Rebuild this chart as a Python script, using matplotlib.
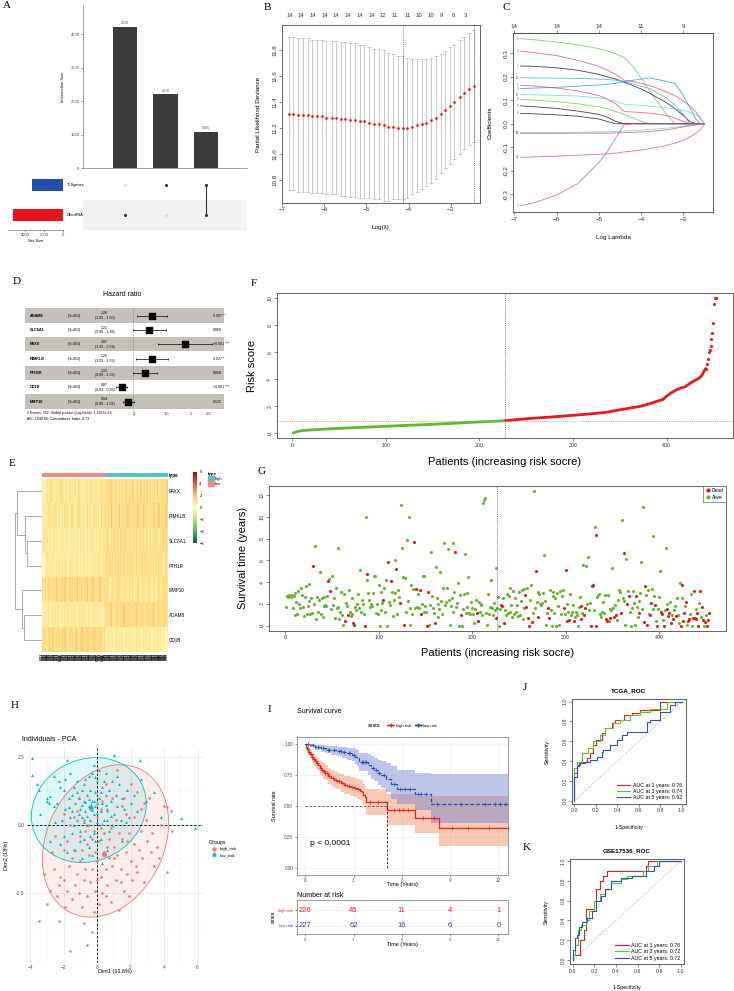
import numpy as np
import matplotlib
matplotlib.use("Agg")
import matplotlib.pyplot as plt
from matplotlib.patches import Ellipse, Patch
from matplotlib.lines import Line2D
from matplotlib.transforms import blended_transform_factory as blend

plt.rcParams['font.family'] = ['Liberation Sans', 'DejaVu Sans']
plt.rcParams['axes.linewidth'] = 0.5

W, H = 734, 991

# ---------------- A: upset ----------------
inter_size = [4228, 2210, 1085]
inter_sets = [(0, 1), (1, 0), (1, 1)]      # (TLSgenes, DEmRNA) membership of each column
set_names = ['TLSgenes', 'DEmRNA']
set_size = [3295, 5313]
set_cols = ['#1F4EA8', '#E8131E']

# ---------------- B: cv.glmnet ----------------
cv_loglam = [-6.85, -6.74, -6.62, -6.51, -6.40, -6.29, -6.17, -6.06, -5.95, -5.83,
             -5.72, -5.61, -5.50, -5.38, -5.27, -5.16, -5.05, -4.93, -4.82, -4.71,
             -4.59, -4.48, -4.37, -4.26, -4.14, -4.03, -3.92, -3.81, -3.69, -3.58,
             -3.47, -3.36, -3.24, -3.13, -3.02, -2.91, -2.79, -2.68, -2.57, -2.45]
cv_mean = [11.31, 11.31, 11.30, 11.30, 11.30, 11.29, 11.29, 11.29, 11.28, 11.28,
           11.28, 11.27, 11.27, 11.26, 11.26, 11.25, 11.25, 11.24, 11.23, 11.23,
           11.22, 11.21, 11.21, 11.20, 11.20, 11.20, 11.21, 11.22, 11.23, 11.24,
           11.26, 11.28, 11.31, 11.34, 11.37, 11.40, 11.44, 11.47, 11.50, 11.52]
cv_sd = [0.59, 0.59, 0.59, 0.59, 0.59, 0.59, 0.59, 0.59, 0.59, 0.59,
         0.59, 0.59, 0.59, 0.59, 0.59, 0.59, 0.59, 0.58, 0.58, 0.58,
         0.58, 0.57, 0.56, 0.55, 0.55, 0.54, 0.52, 0.51, 0.50, 0.49,
         0.48, 0.47, 0.46, 0.45, 0.45, 0.44, 0.44, 0.43, 0.43, 0.43]
cv_lambda_min = -4.14
cv_lambda_1se = -2.45
cv_top_pos = [-6.83, -6.56, -6.28, -6.0, -5.72, -5.45, -5.15, -4.88, -4.61, -4.33,
              -4.01, -3.75, -3.48, -3.21, -2.94, -2.64]
cv_top_nz = [14, 14, 14, 14, 14, 14, 14, 14, 12, 11, 11, 10, 10, 9, 6, 3]

# ---------------- C: coefficient paths ----------------
coef_loglam = [-6.85, -6.5, -6.0, -5.5, -5.0, -4.8, -4.6, -4.4, -4.2, -4.0,
               -3.8, -3.6, -3.4, -3.2, -3.0, -2.85, -2.7, -2.6, -2.5]
coef_paths = [
    [0.362, 0.357, 0.348, 0.336, 0.320, 0.310, 0.298, 0.282, 0.245, 0.195, 0.140, 0.090, 0.040, 0.0, 0, 0, 0, 0, 0],
    [0.309, 0.302, 0.290, 0.270, 0.245, 0.228, 0.210, 0.185, 0.180, 0.172, 0.162, 0.150, 0.135, 0.120, 0.097, 0.075, 0.050, 0.025, 0],
    [0.246, 0.244, 0.238, 0.228, 0.210, 0.200, 0.190, 0.177, 0.163, 0.148, 0.130, 0.110, 0.090, 0.065, 0.035, 0.010, 0, 0, 0],
    [0.196, 0.195, 0.194, 0.193, 0.190, 0.188, 0.185, 0.180, 0.170, 0.160, 0.150, 0.130, 0.110, 0.080, 0.040, 0, 0, 0, 0],
    [0.150, 0.152, 0.155, 0.160, 0.165, 0.168, 0.172, 0.178, 0.185, 0.190, 0.195, 0.188, 0.180, 0.172, 0.120, 0.070, 0.020, 0, 0],
    [0.164, 0.160, 0.152, 0.140, 0.120, 0.105, 0.085, 0.052, 0.050, 0.048, 0.045, 0.040, 0.035, 0.025, 0.010, 0, 0, 0, 0],
    [0.124, 0.123, 0.121, 0.118, 0.110, 0.105, 0.095, 0.083, 0.080, 0.078, 0.075, 0.072, 0.068, 0.063, 0.057, 0.050, 0.040, 0.020, 0],
    [0.104, 0.100, 0.094, 0.085, 0.072, 0.064, 0.052, 0.040, 0.025, 0.010, 0, 0, 0, 0, 0, 0, 0, 0, 0],
    [0.076, 0.072, 0.065, 0.054, 0.040, 0.028, 0.010, 0, 0, 0, 0, 0, 0, 0, 0, 0, 0, 0, 0],
    [0.044, 0.042, 0.038, 0.032, 0.020, 0.010, 0, 0, 0, 0, 0, 0, 0, 0, 0, 0, 0, 0, 0],
    [-0.038, -0.038, -0.037, -0.036, -0.035, -0.034, -0.033, -0.031, -0.029, -0.027, -0.025, -0.022, -0.019, -0.015, -0.010, -0.007, -0.004, -0.002, 0],
    [-0.041, -0.041, -0.041, -0.040, -0.040, -0.040, -0.039, -0.038, -0.037, -0.035, -0.033, -0.030, -0.026, -0.020, -0.013, -0.009, -0.005, -0.002, 0],
    [-0.143, -0.141, -0.138, -0.134, -0.130, -0.128, -0.125, -0.120, -0.116, -0.112, -0.106, -0.100, -0.092, -0.083, -0.070, -0.057, -0.040, -0.025, 0],
    [-0.349, -0.335, -0.303, -0.255, -0.165, -0.120, -0.060, -0.005, 0, 0, 0, 0, 0, 0, 0, 0, 0, 0, 0],
]
coef_cols = ['#61D04F', '#DF536B', '#222222', '#4FA8DF', '#2297E6', '#DF536B', '#5FD8DF',
             '#61D04F', '#222222', '#222222', '#5FD8DF', '#DF536B', '#C55BB8', '#C55BB8']
coef_ids = ['3', '2', '1', '11', '4', '5', '10', '9', '6', '8', '12', '13', '14', '7']
coef_top_pos = [-7, -6, -5, -4, -3]
coef_top_df = [14, 14, 14, 11, 9]

# ---------------- D: forest ----------------
fp_genes = ['ADAM8', 'SLC6A1', 'PAXX', 'RIMKLB', 'PTH1R', 'CD1B', 'MMP10']
fp_hr = [1.26, 1.21, 1.87, 1.25, 1.15, 0.87, 0.94]
fp_lo = [1.05, 0.99, 1.35, 1.03, 0.99, 0.81, 0.88]
fp_hi = [1.50, 1.48, 2.58, 1.53, 1.33, 0.93, 1.01]
fp_p = ['0.007 **', '0.060', '<0.001 ***', '0.027 *', '0.068', '<0.001 ***', '0.121']
fp_n = 453
fp_note = ['# Events: 162; Global p-value (Log-Rank): 1.1653e-16',
           'AIC: 1048.68; Concordance Index: 0.73']

# ---------------- E: heatmap (digit d -> (d-5)*0.35 + 1) ----------------
heat_genes = ['PAXX', 'RIMKLB', 'SLC6A1', 'PTH1R', 'MMP10', 'ADAM8', 'CD1B']
heat_rows = [
    '014545654455465545465545456545455465545545654' + '565675565465656656567456576565756566475656567',
    '545465545654545465545654556545546554565454655' + '656576565675656576566567565765656576567656576',
    '454535445454354545435454453545435454544535454' + '565465656546565656546565465656546565654656565',
    '124545454354545454354545453545545435454545354' + '565656465656565465656565646565656564656565465',
    '656576566576567576567656576565667565765657656' + '565456546565456546565456545654565465456546565',
    '445454354545445354544545435454544543545454435' + '565675566656676566656676566656665676566656665',
    '666567676566657676566656765676567656676566656' + '545454345454534545453454543545454345454534434',
]
n_low, n_high = 227, 226
# dendrogram merges: (child a, child b, height); leaves 0..6, new clusters 7..
dend_merges = [(2, 3, 15), (1, 7, 17), (0, 8, 25), (5, 6, 18), (4, 10, 20), (9, 11, 27)]

# ---------------- F: risk score ----------------
risk_rank = [1, 5, 10, 20, 40, 60, 80, 100, 120, 140, 160, 180, 200, 227, 228, 250, 275, 300,
             320, 335, 345, 355, 365, 372, 380, 390, 396, 400, 405, 410, 415, 420, 425, 430,
             435, 438, 440, 442, 443, 444, 445, 446, 447, 448, 449, 450, 451, 452, 453]
risk_score = [0.02, 0.12, 0.20, 0.25, 0.33, 0.40, 0.46, 0.52, 0.58, 0.64, 0.70, 0.77, 0.84,
              0.93, 0.94, 1.08, 1.20, 1.33, 1.45, 1.55, 1.68, 1.80, 1.92, 2.00, 2.15, 2.38,
              2.50, 2.75, 3.00, 3.20, 3.35, 3.45, 3.70, 3.90, 4.10, 4.30, 4.60, 4.80, 5.10,
              5.50, 6.00, 6.20, 6.50, 7.00, 7.40, 8.20, 9.60, 10.00, 10.00]
risk_cut = 0.93

# ---------------- G: survival status ----------------
surv_time = [
    1.7, 2.7, 2.6, 2.8, 2.7, 2.6, 2.8, 1.6, 2.7, 1.0, 3.0, 2.2, 1.1, 3.2, 2.0, 1.6, 3.5, 2.8, 1.7, 0.9, 2.6, 3.6, 1.1, 1.8, 2.3,
    3.8, 1.1, 2.5, 1.2, 5.5, 2.0, 7.3, 0.6, 2.6, 1.3, 2.4, 4.9, 1.1, 2.5, 0.8, 1.8, 2.6, 1.9, 1.8, 2.7, 4.1, 4.3, 3.2, 1.5, 4.6,
    1.9, 2.5, 0.7, 3.5, 1.6, 7.1, 1.7, 0.6, 1.3, 3.1, 1.0, 0.1, 2.9, 0.4, 2.1, 1.8, 1.0, 3.3, 1.3, 0.9, 1.1, 2.5, 0.2, 0.1, 1.7,
    1.4, 2.0, 2.9, 1.6, 5.1, 1.3, 2.4, 2.0, 1.1, 0.0, 10.0, 4.2, 4.7, 3.0, 2.4, 1.7, 2.0, 1.8, 3.0, 4.6, 4.6, 1.2, 2.0, 1.1, 3.7,
    0.0, 1.4, 3.1, 2.1, 2.4, 3.5, 1.3, 4.2, 0.0, 5.8, 2.2, 1.9, 4.1, 3.1, 0.9, 2.4, 6.0, 3.0, 5.2, 1.1, 3.3, 2.6, 2.1, 11.1, 7.1,
    4.5, 0.1, 4.4, 1.3, 7.9, 2.3, 10.0, 1.6, 0.1, 3.7, 1.1, 3.4, 7.7, 1.6, 3.4, 1.7, 2.9, 1.6, 3.3, 1.1, 2.0, 4.6, 1.3, 4.6, 1.8,
    1.3, 0.0, 3.1, 0.1, 1.9, 6.8, 2.7, 1.6, 1.2, 0.2, 5.4, 2.5, 0.8, 2.0, 1.5, 4.9, 2.3, 1.1, 3.5, 7.6, 1.9, 2.2, 3.5, 7.0, 2.4,
    0.1, 1.8, 2.5, 1.3, 7.6, 3.1, 6.8, 1.7, 2.1, 3.9, 0.0, 2.8, 1.0, 0.0, 1.5, 2.9, 6.6, 1.2, 3.0, 1.7, 4.5, 1.2, 1.1, 2.2, 1.6,
    1.1, 0.2, 1.5, 2.4, 1.2, 0.4, 2.2, 1.3, 2.0, 1.9, 1.0, 11.3, 11.5, 11.7, 1.2, 0.1, 2.9, 1.1, 1.7, 4.2, 1.6, 1.0, 2.1, 1.4, 5.3,
    0.7, 1.6, 2.6, 0.0, 1.5, 1.9, 1.8, 2.5, 0.2, 1.4, 1.0, 2.9, 1.2, 2.7, 3.5, 1.3, 1.9, 0.8, 3.2, 1.1, 2.5, 1.3, 1.9, 0.9, 3.1,
    1.0, 2.3, 3.3, 0.6, 1.6, 3.4, 2.8, 1.7, 3.5, 0.7, 0.0, 2.4, 3.7, 0.3, 1.2, 12.35, 1.6, 5.05, 2.2, 3.1, 0.8, 2.9, 2.0, 1.9, 2.1,
    3.0, 6.5, 2.3, 0.1, 1.2, 1.6, 0.7, 3.3, 1.4, 0.0, 2.7, 3.1, 1.2, 2.5, 0.0, 3.0, 1.8, 0.1, 3.2, 1.1, 2.7, 3.3, 1.6, 1.1, 5.15,
    2.0, 0.4, 1.3, 0.5, 2.9, 1.0, 1.3, 1.9, 0.4, 0.8, 1.3, 1.0, 0.0, 1.7, 2.6, 0.6, 1.8, 1.2, 5.6, 1.0, 1.6, 5.5, 2.0, 6.3, 1.4,
    2.1, 0.0, 3.6, 3.7, 1.4, 9.1, 8.3, 0.0, 2.6, 2.8, 2.9, 1.1, 0.8, 1.3, 2.2, 1.2, 2.8, 0.6, 0.4, 2.8, 0.4, 0.7, 1.5, 1.4, 5.25,
    1.6, 0.8, 1.9, 1.0, 0.5, 2.4, 3.3, 3.1, 1.2, 9.7, 2.5, 2.3, 6.7, 0.1, 6.1, 2.0, 3.2, 2.7, 1.3, 0.0, 1.6, 3.2, 2.1, 0.1, 2.7,
    1.7, 0.8, 2.3, 1.2, 3.0, 5.8, 1.5, 10.9, 0.3, 3.6, 2.8, 0.1, 3.3, 1.1, 1.0, 2.1, 3.4, 8.2, 1.5, 2.7, 1.9, 0.4, 0.0, 1.5, 2.6,
    5.0, 1.3, 1.1, 0.5, 0.0, 1.4, 7.1, 2.0, 1.5, 0.9, 1.2, 2.2, 0.2, 1.0, 0.6, 1.4, 1.8, 0.9, 2.5, 1.0, 0.2, 3.9, 0.0, 3.7, 2.5,
    0.4, 1.2, 1.8, 2.2, 0.1, 0.4, 0.6, 1.1, 2.9, 0.0, 0.7, 3.2, 0.7, 1.5, 0.6, 1.2, 0.0, 2.1, 3.2, 0.8, 1.7, 0.5, 0.0, 0.3, 1.0,
    0.0, 0.5, 1.2,
]
dead_idx = [30, 46, 48, 64, 67, 73, 74, 85, 88, 105, 110, 113, 119, 123, 127, 138, 140, 144, 145,
            152, 153, 160, 182, 188, 205, 206, 226, 231, 232, 234, 257, 258, 260, 261, 264, 268,
            271, 281, 282, 298, 300, 302, 304, 309, 316, 317, 320, 321, 327, 328, 329, 332, 333,
            343, 344, 347, 352, 354, 359, 363, 366, 368, 375, 379, 384, 385, 387, 390, 391, 396,
            398, 402, 403, 405, 409, 410, 411, 413, 415, 418, 423, 424, 426, 427, 429, 431, 432,
            436, 437, 438, 440, 441, 442, 444, 446, 447, 449, 451, 452, 453]

# ---------------- H: PCA ----------------
pca_low = [(-3.9, 2.45), (-3.9, 1.85), (-3.6, 1.5), (-3.5, 1.3), (-3.0, 1.0), (-3.0, 0.9), (-2.9, 0.8),
           (-2.8, 1.05), (-2.6, 0.7), (-2.4, 0.8), (-2.3, 1.6), (-2.2, 1.4), (-2.0, 1.3), (-1.8, 2.4),
           (-1.9, 0.6), (-1.7, 1.0), (-1.6, 0.3), (-1.5, 1.1), (-1.5, 0.5), (-1.4, 1.4), (-1.4, 0.0),
           (-1.3, 0.8), (-1.2, 1.6), (-1.2, 0.2), (-1.1, 1.0), (-1.0, 0.6), (-1.0, -0.2), (-0.9, 1.3),
           (-0.9, 0.3), (-0.8, 0.9), (-0.8, -0.5), (-0.7, 1.7), (-0.7, 0.5), (-0.6, 1.1), (-0.6, 0.0),
           (-0.5, 1.8), (-0.5, 0.7), (-0.5, -0.8), (-0.4, 1.3), (-0.4, 0.2), (-0.3, 0.9), (-0.3, 1.9),
           (-0.2, 0.4), (-0.2, -0.3), (-0.1, 1.2), (-0.1, 0.7), (0.0, 1.6), (0.0, 0.1), (0.1, 1.0),
           (0.1, 2.0), (0.2, 0.5), (0.2, -0.5), (0.3, 1.4), (0.3, 0.8), (0.4, 0.2), (0.5, 1.1),
           (0.5, 1.9), (0.6, 0.6), (0.7, 1.3), (0.7, -0.2), (0.8, 0.9), (0.9, 1.6), (1.0, 0.4),
           (1.0, 2.55), (1.1, 1.1), (1.2, 0.7), (1.3, 1.5), (1.4, 0.2), (1.5, 1.0), (1.6, 0.6),
           (1.8, 1.3), (1.9, 0.3), (2.0, 0.8), (2.2, 1.1), (2.4, 0.5), (2.55, 2.4), (2.6, 1.7),
           (3.8, 0.3), (5.0, 0.25), (5.85, -0.1), (-1.3, -0.9), (-0.9, -1.2), (-0.3, -1.1), (0.3, -1.4),
           (-2.0, -0.4), (-2.5, 0.1), (-1.8, -1.0), (0.6, -0.9), (1.5, -0.6), (-1.1, 0.4), (-0.6, 0.35),
           (-0.2, 0.9), (0.4, 1.6), (-0.8, 1.5), (-1.6, 1.9), (-2.6, 1.8), (-0.3, 0.55), (0.0, 0.8),
           (-0.7, 0.85), (-1.2, 1.2), (0.6, 0.2), (0.9, 0.0), (-0.4, -0.4), (-1.0, -0.6), (1.2, 1.8),
           (0.2, 1.2), (-0.9, 0.75), (-2.1, 0.2), (-2.2, -0.7), (-1.5, -0.3), (0.8, 0.35), (1.7, 0.1),
           (-0.1, -0.6), (0.0, 0.45), (-0.5, 0.95), (0.3, 0.05), (-1.7, 0.65), (-0.1, 1.75), (0.5, 0.75),
           (-0.8, 0.1), (2.9, 0.9), (3.4, 1.2), (-3.4, 0.4), (-2.8, -0.6), (-1.9, 1.7), (-0.2, 2.2)]
pca_high = [(-3.5, -3.5), (-1.6, -4.6), (-0.6, -4.4), (-0.3, -3.9), (-3.0, -2.9), (-2.4, -2.6), (-2.3, -2.2),
            (-2.6, -1.6), (-2.2, -1.9), (-2.0, -2.0), (-1.8, -2.4), (-1.7, -1.5), (-1.5, -2.7), (-1.3, -2.2),
            (-1.2, -1.8), (-1.1, -2.5), (-1.0, -1.3), (-0.9, -3.0), (-0.8, -2.0), (-0.7, -1.6), (-0.6, -2.6),
            (-0.5, -1.1), (-0.4, -2.1), (-0.3, -1.6), (-0.2, -3.2), (-0.1, -2.4), (0.0, -1.3), (0.1, -2.9),
            (0.2, -1.9), (0.3, -2.5), (0.4, -1.0), (0.5, -1.6), (0.6, -2.2), (0.7, -1.2), (0.8, -2.8),
            (0.9, -1.5), (1.0, -0.8), (1.1, -2.0), (1.2, -1.1), (1.3, -3.1), (1.4, -1.6), (1.5, -0.5),
            (1.6, -2.4), (1.7, -1.0), (1.8, -1.8), (1.9, -0.3), (2.0, -1.3), (2.1, -2.0), (2.2, -0.7),
            (2.3, -1.5), (2.5, -0.9), (2.6, -0.2), (2.7, -1.2), (2.8, -2.1), (3.0, -0.6), (3.2, -1.0),
            (3.4, -1.5), (3.6, -0.8), (3.8, 0.0), (4.0, 0.7), (4.2, 0.65), (4.4, 0.5), (4.2, -1.7),
            (3.7, -1.2), (4.5, -0.2), (-2.7, -1.0), (-2.5, -0.4), (-2.0, 0.4), (-1.8, -0.6), (-1.6, 0.0),
            (-1.4, -0.9), (-1.2, 0.5), (-1.0, -0.4), (-0.8, 0.2), (-0.6, -0.7), (-0.4, 0.6), (-0.2, -0.2),
            (0.0, 0.3), (0.1, -0.6), (0.3, 0.9), (0.4, -0.3), (0.6, 0.5), (0.7, -0.5), (0.9, 1.0),
            (1.1, 0.2), (1.3, -0.3), (1.5, 0.7), (1.7, 0.4), (2.0, 1.5), (2.2, 0.3), (2.4, 1.2),
            (2.6, 0.6), (2.9, 0.2), (3.1, 1.0), (1.2, 2.0), (0.5, 1.5), (-0.5, 0.0), (-1.1, 1.0),
            (1.8, -0.6), (-0.1, -1.0), (0.2, -0.1), (-0.9, -0.9), (0.8, -0.1), (1.0, -1.2), (-1.5, -1.2),
            (-2.0, -0.9), (2.4, -1.7), (-0.3, -0.5), (0.6, -0.8), (1.4, -2.1), (-1.9, -3.0), (0.0, -2.0),
            (-2.8, -2.4), (-2.3, -3.5), (-0.8, -3.6), (1.9, -2.6), (3.3, -0.3), (2.8, 0.8), (-3.2, -1.8),
            (-1.4, 0.3), (0.5, -2.6), (1.6, 1.0), (-0.7, -0.2), (0.2, 0.6)]
# ellipse: centre x, centre y, width, height, angle
ell_high = [0.5, -0.58, 7.76, 5.27, 18.8]
ell_low = [-0.5, 0.55, 6.88, 3.80, 5.6]

# ---------------- I: Kaplan-Meier ----------------
hr_t = [0, 0.05, 0.1, 0.2, 0.3, 0.4, 0.5, 0.6, 0.7, 0.8, 0.9, 1.0, 1.1, 1.2, 1.4, 1.6,
        1.8, 2.0, 2.2, 2.4, 2.6, 2.8, 3.0, 3.2, 3.4, 3.5, 3.6, 3.7, 3.8, 5.1, 6.85, 8.3]
hr_s = [1.0, 0.98, 0.96, 0.94, 0.92, 0.90, 0.88, 0.865, 0.85, 0.83, 0.81, 0.795, 0.78, 0.77, 0.745, 0.725,
        0.71, 0.70, 0.685, 0.67, 0.665, 0.655, 0.645, 0.635, 0.625, 0.615, 0.59, 0.57, 0.53, 0.465, 0.405, 0.325]
hr_lo = [1.0, 0.96, 0.935, 0.91, 0.885, 0.86, 0.835, 0.815, 0.8, 0.78, 0.755, 0.74, 0.72, 0.71, 0.68, 0.66,
         0.645, 0.635, 0.615, 0.60, 0.595, 0.585, 0.57, 0.56, 0.55, 0.54, 0.51, 0.49, 0.43, 0.35, 0.28, 0.18]
hr_hi = [1.0, 1.0, 0.99, 0.97, 0.955, 0.94, 0.925, 0.915, 0.90, 0.89, 0.87, 0.855, 0.845, 0.83, 0.81, 0.79,
         0.78, 0.77, 0.76, 0.745, 0.74, 0.735, 0.725, 0.72, 0.71, 0.70, 0.68, 0.66, 0.64, 0.60, 0.58, 0.58]
hr_cens = [0.15, 0.25, 0.35, 0.45, 0.55, 0.65, 0.75, 0.95, 1.05, 1.15, 1.25, 1.35, 1.5, 1.7, 1.9, 2.1,
           2.3, 2.5, 2.7, 2.9, 3.1, 3.3, 4.0, 4.5, 5.5, 5.8, 6.1, 6.4, 7.3, 8.0, 9.1, 10.1, 11.4, 12.6]
lr_t = [0, 0.3, 0.6, 1.0, 1.3, 1.6, 2.0, 2.3, 2.6, 2.9, 3.1, 3.2, 3.35, 3.9, 4.1, 4.3, 4.5, 4.7, 5.0,
        5.3, 5.7, 6.8, 7.8]
lr_s = [1.0, 0.99, 0.975, 0.965, 0.955, 0.95, 0.945, 0.935, 0.925, 0.915, 0.90, 0.885, 0.855, 0.83,
        0.81, 0.79, 0.77, 0.75, 0.72, 0.68, 0.64, 0.60, 0.52]
lr_lo = [1.0, 0.975, 0.955, 0.94, 0.925, 0.915, 0.905, 0.89, 0.875, 0.86, 0.84, 0.82, 0.78, 0.75,
         0.72, 0.70, 0.67, 0.645, 0.61, 0.56, 0.52, 0.47, 0.36]
lr_hi = [1.0, 1.0, 0.995, 0.99, 0.985, 0.985, 0.98, 0.975, 0.97, 0.965, 0.96, 0.95, 0.93, 0.92,
         0.905, 0.89, 0.875, 0.86, 0.845, 0.82, 0.79, 0.77, 0.76]
lr_cens = [0.2, 0.5, 0.8, 1.1, 1.4, 1.5, 1.8, 2.1, 2.2, 2.4, 2.7, 2.8, 3.0, 3.5, 3.6, 3.7, 3.8, 4.2,
           4.4, 4.6, 4.9, 5.5, 5.9, 6.2, 6.5, 7.0, 7.2, 7.5, 8.2, 9.7, 11.2, 11.8, 12.1, 12.4]
risk_times = [0, 3, 6, 9, 12]
risk_high = [226, 45, 11, 4, 1]
risk_low = [227, 62, 16, 6, 0]

# ---------------- J/K: ROC ----------------
tcga_labels = ['AUC at 1 years: 0.76', 'AUC at 3 years: 0.74', 'AUC at 5 years: 0.62']
tcga_fpr = [
    [0, 0, 0.028, 0.053, 0.115, 0.146, 0.177, 0.20, 0.255, 0.286, 0.35, 0.378, 0.46, 0.535, 0.61, 0.797, 0.845, 1.0],
    [0, 0, 0.028, 0.069, 0.13, 0.177, 0.24, 0.286, 0.364, 0.426, 0.52, 0.61, 0.705, 0.86, 0.875, 1.0],
    [0, 0, 0.028, 0.047, 0.10, 0.146, 0.208, 0.255, 0.27, 0.33, 0.394, 0.44, 0.49, 0.675, 0.705, 0.797, 0.89, 0.94, 0.985, 1.0],
]
tcga_tpr = [
    [0, 0.0, 0.276, 0.36, 0.394, 0.428, 0.478, 0.56, 0.61, 0.68, 0.73, 0.78, 0.82, 0.866, 0.89, 0.92, 1.0, 1.0],
    [0, 0.0, 0.33, 0.394, 0.478, 0.53, 0.60, 0.664, 0.73, 0.78, 0.81, 0.866, 0.90, 0.93, 1.0, 1.0],
    [0, 0.244, 0.244, 0.346, 0.38, 0.39, 0.41, 0.44, 0.49, 0.51, 0.56, 0.61, 0.66, 0.69, 0.79, 0.82, 0.90, 0.97, 1.0, 1.0],
]
gse_labels = ['AUC at 1 years: 0.76', 'AUC at 3 years: 0.72', 'AUC at 5 years: 0.72']
gse_fpr = [
    [0, 0.02, 0.07, 0.10, 0.12, 0.15, 0.20, 0.22, 0.25, 0.28, 0.32, 0.38, 0.68, 0.70, 0.75, 1.0],
    [0, 0.02, 0.05, 0.08, 0.12, 0.15, 0.20, 0.25, 0.30, 0.35, 0.45, 0.50, 0.65, 0.70, 0.78, 0.80, 1.0],
    [0, 0.02, 0.04, 0.06, 0.09, 0.13, 0.18, 0.22, 0.26, 0.30, 0.35, 0.45, 0.55, 0.68, 0.75, 0.80, 0.88, 1.0],
]
gse_tpr = [
    [0, 0.05, 0.05, 0.20, 0.30, 0.52, 0.52, 0.60, 0.72, 0.80, 0.85, 0.90, 0.90, 0.95, 1.0, 1.0],
    [0, 0.05, 0.15, 0.30, 0.35, 0.40, 0.50, 0.60, 0.67, 0.72, 0.78, 0.82, 0.85, 0.90, 0.95, 1.0, 1.0],
    [0, 0.10, 0.22, 0.25, 0.33, 0.38, 0.42, 0.50, 0.60, 0.65, 0.72, 0.80, 0.83, 0.85, 0.90, 0.95, 1.0, 1.0],
]
roc_cols = ['#E8191F', '#5BC23A', '#2A55B8']

red = '#E41A1C'
green = '#63B62F'
pink = '#F08A8A'
cyan = '#4FC3CF'
gg_red = '#F8766D'
gg_cyan = '#00BFC4'


fig = plt.figure(figsize=(W / 100, H / 100), dpi=100)


def box(l, t, r, b):
    return [l / W, 1 - b / H, (r - l) / W, (b - t) / H]


def base_r(ax, fs=4.5):
    for s in ax.spines.values():
        s.set_color('#4a4a4a')
        s.set_linewidth(0.6)
    ax.tick_params(labelsize=fs, length=2, width=0.4, pad=1.2, colors='#333333')


def letter(x, y, s):
    fig.text(x / W, 1 - y / H, s, fontsize=8, family=['Liberation Serif', 'DejaVu Serif'],
             va='center', ha='left')


for lx, ly, s in [(3, 6, 'A'), (264, 7, 'B'), (503, 8, 'C'), (13, 282, 'D'), (9, 463, 'E'),
                  (251, 283, 'F'), (258, 471, 'G'), (11, 705, 'H'), (268, 709, 'I'),
                  (523, 687, 'J'), (523, 848, 'K')]:
    letter(lx, ly, s)

# ================= A =================
axa = fig.add_axes(box(83, 5, 247, 168))
xpos = np.arange(1, len(inter_size) + 1)
axa.bar(xpos, inter_size, width=0.6, color='#3b3b3b')
for xp, v in zip(xpos, inter_size):
    axa.text(xp, v + 50, str(v), ha='center', va='bottom', fontsize=2.5, color='#555555')
axa.set_xlim(-0.04, 4.01)
axa.set_ylim(0, 4880)
axa.set_xticks([])
axa.set_yticks([0, 1000, 2000, 3000, 4000])
axa.tick_params(axis='y', labelsize=3, length=1.5, width=0.4, pad=1, colors='#444444')
for s in ['top', 'right']:
    axa.spines[s].set_visible(False)
for s in ['left', 'bottom']:
    axa.spines[s].set_color('#777777')
axa.set_ylabel('Intersection Size', fontsize=3, va='center')
axa.yaxis.set_label_coords(-0.12, 0.5)

axm = fig.add_axes(box(83, 170, 247, 230))
axm.axhspan(-0.5, 0.5, color='#f2f2f2', lw=0)
rows_y = [1, 0]
for j, memb in enumerate(inter_sets):
    ys = [rows_y[k] for k in range(len(set_names)) if memb[k]]
    for k in range(len(set_names)):
        axm.scatter(xpos[j], rows_y[k], s=5, color='#333333' if memb[k] else '#dddddd',
                    lw=0, zorder=3)
    if len(ys) > 1:
        axm.plot([xpos[j], xpos[j]], [min(ys), max(ys)], color='#333333', lw=0.8, zorder=2)
axm.set_xlim(-0.04, 4.01)
axm.set_ylim(-0.5, 1.5)
axm.axis('off')
trm = blend(axm.transAxes, axm.transData)
for k, name in enumerate(set_names):
    axm.text(-0.098, rows_y[k], name, transform=trm, fontsize=2.8, va='center', ha='left')

axs = fig.add_axes(box(8, 170, 63, 230))
axs.barh(rows_y, set_size, height=0.43, color=set_cols)
axs.set_xlim(5790, 0)
axs.set_ylim(-0.5, 1.5)
axs.set_yticks([])
axs.set_xticks([4000, 2000, 0])
for s in ['top', 'right', 'left']:
    axs.spines[s].set_visible(False)
axs.spines['bottom'].set_color('#777777')
axs.tick_params(axis='x', labelsize=3, length=1.5, width=0.4, pad=1, colors='#444444')
axs.set_xlabel('Set Size', fontsize=3, labelpad=1)

# ================= B =================
axb = fig.add_axes(box(281.7, 25, 480, 203))
axb.errorbar(cv_loglam, cv_mean, yerr=cv_sd, fmt='none', ecolor='#b5b5b5', elinewidth=0.5,
             capsize=1.2, capthick=0.5)
axb.scatter(cv_loglam, cv_mean, s=3.5, color='red', lw=0, zorder=3)
for v in [cv_lambda_min, cv_lambda_1se]:
    axb.axvline(v, color='#555555', lw=0.5, ls=(0, (1.5, 1.5)))
axb.set_xlim(-7.014, -2.304)
axb.set_ylim(10.623, 11.992)
axb.set_xticks([-7, -6, -5, -4, -3])
yt = [10.8, 11.0, 11.2, 11.4, 11.6, 11.8]
axb.set_yticks(yt)
axb.set_yticklabels([f'{v:.1f}' for v in yt], rotation=90, va='center')
base_r(axb, 4.5)
trb = blend(axb.transData, axb.transAxes)
for xv, n in zip(cv_top_pos, cv_top_nz):
    axb.text(xv, 1.056, str(n), transform=trb, ha='center', va='center', fontsize=4.2, color='#333333')
axb.set_xlabel('Log(λ)', fontsize=4.5, va='center')
axb.xaxis.set_label_coords(0.5, -0.14)
axb.set_ylabel('Partial Likelihood Deviance', fontsize=4.5, va='center')
axb.yaxis.set_label_coords(-0.118, 0.5)

# ================= C =================
axc = fig.add_axes(box(513.3, 33.3, 713.3, 212.3))
for path, col, cid in zip(coef_paths, coef_cols, coef_ids):
    axc.plot(coef_loglam, path, color=col, lw=0.6, alpha=0.85)
    axc.text(coef_loglam[0] - 0.08, path[0], cid, fontsize=2.2, color='#666666',
             ha='center', va='center')
axc.set_xlim(-7.024, -2.29)
axc.set_ylim(-0.377, 0.385)
axc.set_xticks([-7, -6, -5, -4, -3])
yt = [-0.3, -0.2, -0.1, 0.0, 0.1, 0.2, 0.3]
axc.set_yticks(yt)
axc.set_yticklabels([f'{v:.1f}' for v in yt], rotation=90, va='center')
base_r(axc, 4.5)
sec = axc.secondary_xaxis('top')
sec.set_xticks(coef_top_pos)
sec.set_xticklabels([str(d) for d in coef_top_df])
sec.tick_params(labelsize=4.5, length=2, width=0.4, pad=1.2, colors='#333333')
sec.spines['top'].set_color('#4a4a4a')
axc.set_xlabel('Log Lambda', fontsize=4.5, va='center')
axc.xaxis.set_label_coords(0.5, -0.14)
axc.set_ylabel('Coefficients', fontsize=4.5, va='center')
axc.yaxis.set_label_coords(-0.117, 0.5)

# ================= D =================
axd = fig.add_axes(box(25, 308.5, 224, 408.8))
rows = np.arange(len(fp_genes))
for i in rows:
    if i % 2 == 0:
        axd.axhspan(i - 0.5, i + 0.5, color='#c6c0ba', lw=0)
hr = np.array(fp_hr)
axd.errorbar(hr, rows, xerr=[hr - np.array(fp_lo), np.array(fp_hi) - hr], fmt='none',
             ecolor='black', elinewidth=0.5, capsize=1.0, capthick=0.5, zorder=3)
axd.scatter(hr, rows, marker='s', s=13, color='black', zorder=4)
axd.axvline(1, color='#777777', lw=0.5, ls=(0, (1, 1.2)), ymin=-0.06, ymax=1.0, clip_on=False)
axd.set_xscale('log')
axd.set_xlim(0.269, 3.0)
axd.set_ylim(len(fp_genes) - 0.5, -0.5)
axd.set_xticks([1, 1.5, 2, 2.5])
axd.set_xticklabels(['1', '1.5', '2', '2.5'])
axd.xaxis.set_minor_locator(matplotlib.ticker.NullLocator())
axd.tick_params(axis='x', labelsize=3, length=0, pad=2.5, colors='#333333')
axd.set_yticks([])
for s in axd.spines.values():
    s.set_visible(False)
trd = blend(axd.transAxes, axd.transData)
for i, g in enumerate(fp_genes):
    axd.text(0.025, i, g, transform=trd, fontsize=2.8, fontweight='bold', va='center')
    axd.text(0.216, i, f'(N={fp_n})', transform=trd, fontsize=2.6, va='center')
    axd.text(0.40, i - 0.17, f'{fp_hr[i]:.2f}', transform=trd, fontsize=2.6, va='center', ha='center')
    axd.text(0.40, i + 0.17, f'({fp_lo[i]:.2f} - {fp_hi[i]:.2f})', transform=trd, fontsize=2.6,
             va='center', ha='center')
    axd.text(0.946, i, fp_p[i], transform=trd, fontsize=2.6, va='center')
axd.text(0.49, 1.135, 'Hazard ratio', transform=axd.transAxes, fontsize=5, ha='center', va='center')
axd.text(0.01, -0.042, fp_note[0], transform=axd.transAxes, fontsize=2.5, va='center')
axd.text(0.01, -0.097, fp_note[1], transform=axd.transAxes, fontsize=2.5, va='center')

# ================= E =================
n_cols = min(len(r) for r in heat_rows)
heat = (np.array([[int(c) for c in r[:n_cols]] for r in heat_rows]) - 5) * 0.35 + 1.0
axh = fig.add_axes(box(41.7, 479, 167.7, 652.3))
im = axh.imshow(heat, aspect='auto', cmap='RdYlGn_r', vmin=-6, vmax=6, interpolation='nearest')
axh.yaxis.tick_right()
axh.set_yticks(np.arange(len(heat_genes)))
axh.set_yticklabels(heat_genes, fontsize=3.3)
axh.set_xticks(np.arange(n_cols))
axh.set_xticklabels([f'S{i + 1:03d}' for i in range(n_cols)], rotation=90, fontsize=2.2,
                    fontweight='bold')
axh.tick_params(length=0, pad=0.8)
for s in axh.spines.values():
    s.set_visible(False)

axt = fig.add_axes(box(41.7, 472.7, 167.7, 477.3))
axt.barh(0, n_low, height=1, color=pink)
axt.barh(0, n_high, left=n_low, height=1, color=cyan)
axt.set_xlim(0, n_low + n_high)
axt.set_ylim(-0.5, 0.5)
axt.set_xticks([])
axt.yaxis.tick_right()
axt.set_yticks([0])
axt.set_yticklabels(['type'], fontsize=3.3, fontweight='bold')
axt.tick_params(length=0, pad=0.8)
for s in axt.spines.values():
    s.set_visible(False)

axdn = fig.add_axes(box(14, 479, 41.7, 652.3))
node_y = {i: float(i) for i in range(len(heat_genes))}
node_h = {i: 0.0 for i in range(len(heat_genes))}
for k, (a, b, hgt) in enumerate(dend_merges):
    nid = len(heat_genes) + k
    axdn.plot([node_h[a], hgt, hgt, node_h[b]], [node_y[a], node_y[a], node_y[b], node_y[b]],
              color='#8a8a8a', lw=0.5)
    node_y[nid] = (node_y[a] + node_y[b]) / 2
    node_h[nid] = hgt
axdn.set_xlim(27.7, 0)
axdn.set_ylim(len(heat_genes) - 0.5, -0.5)
axdn.axis('off')

cax = fig.add_axes(box(192.7, 471.7, 197.3, 543.3))
cb = fig.colorbar(im, cax=cax, ticks=[-6, -4, -2, 0, 2, 4, 6])
cb.outline.set_visible(False)
cb.ax.tick_params(labelsize=3, length=0, pad=1.5)
leg = axh.legend(handles=[Patch(color=cyan, label='high'), Patch(color=pink, label='low')],
                 title='type', loc='upper left', bbox_to_anchor=(206 / W, 1 - 470 / H),
                 bbox_transform=fig.transFigure, fontsize=3, title_fontsize=3.2, frameon=False,
                 handlelength=1.3, handleheight=1.3, borderpad=0, labelspacing=0.05,
                 handletextpad=0.3, alignment='left')
leg.get_title().set_fontweight('bold')

# ================= F =================
axf = fig.add_axes(box(276.7, 293.3, 733, 438.3))
rr = np.array(risk_rank)
rs = np.array(risk_score)
low = rr <= n_low
dense_hi = (~low) & (rr <= 442)
axf.plot(rr[low], rs[low], color=green, lw=2.0, solid_capstyle='round')
axf.plot(rr[dense_hi], rs[dense_hi], color=red, lw=2.0, solid_capstyle='round')
axf.scatter(rr[rr >= 442], rs[rr >= 442], s=5, color=red, lw=0)
axf.axvline(n_low, color='#555555', lw=0.5, ls=(0, (1.5, 1.5)))
axf.axhline(risk_cut, color='#999999', lw=0.5, ls=(0, (1.5, 1.5)))
axf.set_xlim(-16.7, 471)
axf.set_ylim(-0.37, 10.37)
axf.set_xticks([0, 100, 200, 300, 400])
yt = [0, 2, 4, 6, 8, 10]
axf.set_yticks(yt)
axf.set_yticklabels([str(v) for v in yt], rotation=90, va='center')
base_r(axf, 3.8)
axf.set_xlabel('Patients (increasing risk socre)', fontsize=8, va='center')
axf.xaxis.set_label_coords(0.5, -0.16)
axf.set_ylabel('Risk score', fontsize=8, va='center')
axf.yaxis.set_label_coords(-0.055, 0.5)

# ================= G =================
axg = fig.add_axes(box(269.3, 485.7, 726, 631))
st = np.array(surv_time)
pid = np.arange(1, len(st) + 1)
is_dead = np.isin(pid, dead_idx)
axg.scatter(pid[~is_dead], st[~is_dead], s=5, color=green, lw=0, zorder=2)
axg.scatter(pid[is_dead], st[is_dead], s=5, color=red, lw=0, zorder=3)
axg.axvline(n_low, color='#555555', lw=0.5, ls=(0, (1.5, 1.5)))
axg.set_xlim(-17, 471.6)
axg.set_ylim(-0.49, 12.85)
axg.set_xticks([0, 100, 200, 300, 400])
yt = [0, 2, 4, 6, 8, 10, 12]
axg.set_yticks(yt)
axg.set_yticklabels([str(v) for v in yt], rotation=90, va='center')
base_r(axg, 3.8)
axg.set_xlabel('Patients (increasing risk socre)', fontsize=8, va='center')
axg.xaxis.set_label_coords(0.5, -0.153)
axg.set_ylabel('Survival time (years)', fontsize=8, va='center')
axg.yaxis.set_label_coords(-0.057, 0.5)
lg = axg.legend(handles=[Line2D([], [], marker='o', ls='', color=red, ms=2, label='Dead'),
                         Line2D([], [], marker='o', ls='', color=green, ms=2, label='Alive')],
                loc='upper right', fontsize=3.5, fancybox=False, edgecolor='#666666',
                borderaxespad=0, handletextpad=0.2, borderpad=0.5, framealpha=1,
                handlelength=1.2, labelspacing=0.3)
lg.get_frame().set_linewidth(0.5)

# ================= H =================
axp = fig.add_axes(box(26.7, 746.7, 203.3, 963.3))
ph = np.array(pca_high).T
pl = np.array(pca_low).T
for e, col in [(ell_high, gg_red), (ell_low, gg_cyan)]:
    axp.add_patch(Ellipse((e[0], e[1]), e[2], e[3], angle=e[4], facecolor=col, alpha=0.12, lw=0))
    axp.add_patch(Ellipse((e[0], e[1]), e[2], e[3], angle=e[4], facecolor='none', edgecolor=col, lw=0.6))
axp.scatter(ph[0], ph[1], s=3.5, marker='o', color=gg_red, lw=0, zorder=3)
axp.scatter(pl[0], pl[1], s=4.5, marker='^', color=gg_cyan, lw=0, zorder=3)
axp.scatter([ph[0].mean()], [ph[1].mean()], s=14, marker='o', color=gg_red, lw=0, zorder=4)
axp.scatter([pl[0].mean()], [pl[1].mean()], s=16, marker='^', color=gg_cyan, lw=0, zorder=4)
axp.axhline(0, color='black', lw=0.6, ls=(0, (3, 2)))
axp.axvline(0, color='black', lw=0.6, ls=(0, (3, 2)))
axp.set_xlim(-4.21, 6.34)
axp.set_ylim(-5.06, 2.87)
axp.set_xticks([-4, -2, 0, 2, 4, 6])
axp.set_yticks([-2.5, 0.0, 2.5])
axp.set_yticklabels(['-2.5', '0.0', '2.5'])
axp.set_xticks([-3, -1, 1, 3, 5], minor=True)
axp.set_yticks([-3.75, -1.25, 1.25], minor=True)
axp.grid(which='major', color='#e6e6e6', lw=0.5)
axp.grid(which='minor', color='#f2f2f2', lw=0.35)
axp.set_axisbelow(True)
for s in axp.spines.values():
    s.set_visible(False)
axp.tick_params(which='both', length=0, labelsize=3.5, pad=1.5, colors='#4d4d4d')
axp.set_xlabel('Dim1 (33.6%)', fontsize=4, va='center')
axp.xaxis.set_label_coords(0.5, -0.039)
axp.set_ylabel('Dim2 (18%)', fontsize=4, va='center')
axp.yaxis.set_label_coords(-0.113, 0.5)
axp.set_title('Individuals - PCA', fontsize=5, loc='left', x=-0.025, pad=4)
lp = axp.legend(handles=[Line2D([], [], marker='o', ls='', color=gg_red, ms=2.2, label='high_risk'),
                         Line2D([], [], marker='^', ls='', color=gg_cyan, ms=2.4, label='low_risk')],
                title='Groups', loc='upper left', bbox_to_anchor=(207 / W, 1 - 838 / H),
                bbox_transform=fig.transFigure, fontsize=3.2, title_fontsize=3.8, frameon=False,
                alignment='left', handletextpad=0.4, labelspacing=0.4, borderpad=0)

# ================= I =================
axi = fig.add_axes(box(296.7, 736.7, 508.3, 875))
t_end = max(max(hr_cens), max(lr_cens))


def km_at(t, times, surv):
    idx = np.searchsorted(times, t, side='right') - 1
    return np.asarray(surv)[idx]


groups = [(hr_t, hr_s, hr_lo, hr_hi, hr_cens, '#E8231F', '#F08A5D', '-'),
          (lr_t, lr_s, lr_lo, lr_hi, lr_cens, '#2A4BA8', '#7080D0', (0, (3, 1.5)))]
for times, surv, lo, hi, cens, col, fcol, ls in groups:
    tt = np.append(times, t_end)
    axi.fill_between(tt, np.append(lo, lo[-1]), np.append(hi, hi[-1]), step='post', color=fcol,
                     alpha=0.45, lw=0)
for times, surv, lo, hi, cens, col, fcol, ls in groups:
    tt = np.append(times, t_end)
    axi.step(tt, np.append(surv, surv[-1]), where='post', color=col, lw=0.9, ls=ls)
    axi.scatter(cens, km_at(cens, times, surv), marker='+', s=6, color=col, lw=0.5, zorder=4)
med = hr_t[int(np.argmax(np.array(hr_s) <= 0.5))]
axi.plot([0, med], [0.5, 0.5], color='#555555', lw=0.6, ls=(0, (3, 2)))
axi.plot([med, med], [0, 0.5], color='#222222', lw=0.6, ls=(0, (3, 2)))
axi.text(0.3, 0.2, 'p < 0.0001', fontsize=6, va='center')
axi.set_xlim(-0.53, 12.62)
axi.set_ylim(-0.057, 1.06)
axi.set_xticks(risk_times)
axi.set_yticks([0, 0.25, 0.5, 0.75, 1.0])
axi.set_yticklabels(['0.00', '0.25', '0.50', '0.75', '1.00'])
axi.grid(color='#ebebeb', lw=0.4)
axi.set_axisbelow(True)
for s in axi.spines.values():
    s.set_color('#8a8a8a')
    s.set_linewidth(0.6)
axi.tick_params(labelsize=3.3, length=1.5, width=0.4, pad=1, colors='#4d4d4d')
axi.set_xlabel('Time (Years)', fontsize=4, va='center')
axi.xaxis.set_label_coords(0.5, -0.072)
axi.set_ylabel('Survival rate', fontsize=4, va='center')
axi.yaxis.set_label_coords(-0.107, 0.5)
axi.set_title('Survival curve', fontsize=5, loc='left', x=0.0, pad=17)
fig.text(368 / W, 1 - 725.7 / H, 'strata', fontsize=3.5, va='center')
hh = (Patch(facecolor='#F08A5D', alpha=0.45), Line2D([], [], color='#E8231F', marker='+', lw=0.8, ms=2.5))
hl = (Patch(facecolor='#7080D0', alpha=0.45), Line2D([], [], color='#2A4BA8', marker='+', lw=0.8, ms=2.5))
axi.legend(handles=[hh, hl], labels=['high risk', 'low risk'], ncol=2, loc='center',
           bbox_to_anchor=(412 / W, 1 - 725.7 / H), bbox_transform=fig.transFigure, fontsize=3,
           frameon=False, handlelength=1.6, columnspacing=1.0, handletextpad=0.4)

axr = fig.add_axes(box(296.7, 900, 508.3, 934.3))
for yrow, vals, col in [(1, risk_high, '#E8231F'), (0, risk_low, '#2A4BA8')]:
    for t, v in zip(risk_times, vals):
        axr.text(t, yrow, str(v), color=col, ha='center', va='center', fontsize=5.5)
axr.set_xlim(-0.53, 12.62)
axr.set_ylim(-0.55, 1.64)
axr.set_xticks(risk_times)
axr.set_yticks([1, 0])
axr.set_yticklabels(['high risk', 'low risk'])
for tl, col in zip(axr.get_yticklabels(), ['#E8231F', '#2A4BA8']):
    tl.set_color(col)
axr.grid(color='#ebebeb', lw=0.4)
for s in axr.spines.values():
    s.set_color('#8a8a8a')
    s.set_linewidth(0.6)
axr.tick_params(labelsize=3.1, length=1.5, width=0.4, pad=1)
axr.tick_params(axis='x', colors='#4d4d4d')
axr.set_xlabel('Time (Years)', fontsize=4, va='center')
axr.xaxis.set_label_coords(0.5, -0.3)
axr.set_ylabel('strata', fontsize=3.5, va='center')
axr.yaxis.set_label_coords(-0.112, 0.5)
axr.set_title('Number at risk', fontsize=5, loc='left', x=0.0, pad=2)

# ================= J / K =================
for bx, fprs, tprs, labs, title, lim in [
        ((571.7, 699, 685.7, 804), tcga_fpr, tcga_tpr, tcga_labels, 'TCGA_ROC', (-0.024, 1.037, -0.033, 1.027)),
        ((570, 859, 684, 964.3), gse_fpr, gse_tpr, gse_labels, 'GSE17536_ROC', (-0.025, 1.03, -0.043, 1.02))]:
    ax = fig.add_axes(box(*bx))
    ax.plot([0, 1], [0, 1], color='#777777', lw=0.5, ls=(0, (1, 2)))
    for fpr, tpr, col, lab in zip(fprs, tprs, roc_cols, labs):
        ax.plot(fpr, tpr, drawstyle='steps-pre', color=col, lw=0.8, label=lab)
    ax.set_xlim(lim[0], lim[1])
    ax.set_ylim(lim[2], lim[3])
    tk = [0.0, 0.2, 0.4, 0.6, 0.8, 1.0]
    ax.set_xticks(tk)
    ax.set_yticks(tk)
    ax.set_yticklabels([f'{v:.1f}' for v in tk], rotation=90, va='center')
    base_r(ax, 3.8)
    ax.set_xlabel('1-Specificity', fontsize=3.8, va='center')
    ax.xaxis.set_label_coords(0.5, -0.225)
    ax.set_ylabel('Sensitivity', fontsize=3.8, va='center')
    ax.yaxis.set_label_coords(-0.21, 0.5)
    ax.set_title(title, fontsize=4.5, fontweight='bold', pad=5)
    ax.legend(loc='lower right', fontsize=3.8, frameon=False, handlelength=2.6,
              borderaxespad=0.3, labelspacing=0.25, handletextpad=0.5)

fig.savefig('out.png', dpi=100)
